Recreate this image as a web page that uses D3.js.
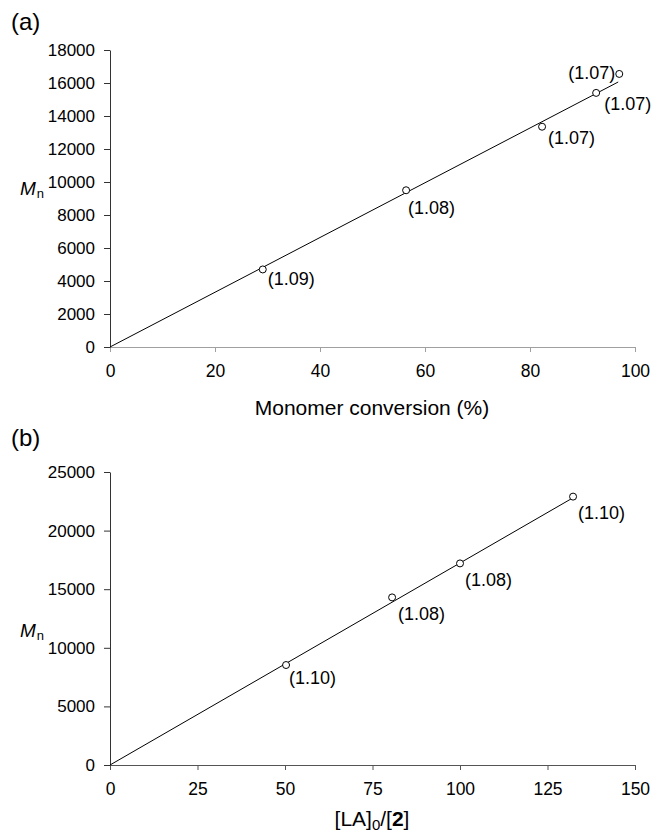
<!DOCTYPE html>
<html>
<head>
<meta charset="utf-8">
<script src="https://cdn.jsdelivr.net/npm/d3@7"></script>
<style>
  body { margin: 0; background: #fff; }
  svg { display: block; font-family: "Liberation Sans", Arial, sans-serif; }
</style>
</head>
<body>
<div id="chart"></div>
<script>
// Panel (a): Mn vs monomer conversion, PDI in brackets
const convA = [29.1, 56.4, 82.3, 92.6, 97.0];
const mnA   = [4700, 9500, 13350, 15400, 16550];
const pdiA  = ["(1.09)", "(1.08)", "(1.07)", "(1.07)", "(1.07)"];
const fitA  = [[0, 0], [96.8, 16060]];
const xTicksA = [0, 20, 40, 60, 80, 100];
const yTicksA = [0, 2000, 4000, 6000, 8000, 10000, 12000, 14000, 16000, 18000];

// Panel (b): Mn vs [LA]0/[2]
const ratioB = [50.3, 80.6, 100, 132.3];
const mnB    = [8530, 14300, 17200, 22900];
const pdiB   = ["(1.10)", "(1.08)", "(1.08)", "(1.10)"];
const fitB   = [[0, 0], [132, 22750]];
const xTicksB = [0, 25, 50, 75, 100, 125, 150];
const yTicksB = [0, 5000, 10000, 15000, 20000, 25000];

// label placement relative to each point (dx, dy, anchor)
const offA = [[5, 9, "start"], [2, 17, "start"], [6, 11, "start"], [8, 11, "start"], [-4, -1, "end"]];
const offB = [[3, 13, "start"], [6, 16, "start"], [5, 16, "start"], [5, 16, "start"]];

const W = 652, H = 836;
const svg = d3.select("#chart").append("svg").attr("width", W).attr("height", H);

function panel(o) {
  const x = d3.scaleLinear().domain(o.xDomain).range([110, 635]);
  const y = d3.scaleLinear().domain(o.yDomain).range([o.y0, o.y1]);
  const g = svg.append("g");

  // x axis
  g.append("g")
    .attr("transform", `translate(0,${o.y0})`)
    .call(d3.axisBottom(x).tickValues(o.xTicks).tickFormat(d3.format("d"))
      .tickSize(5).tickPadding(13).tickSizeOuter(0))
    .call(ax => ax.selectAll(".domain, .tick line").attr("stroke", o.xAxisColor))
    .call(ax => ax.selectAll("text").style("font-size", "17.5px").attr("fill", "#000"));

  // y axis
  g.append("g")
    .attr("transform", "translate(110,0)")
    .call(d3.axisLeft(y).tickValues(o.yTicks).tickFormat(d3.format("d"))
      .tickSize(6).tickPadding(9).tickSizeOuter(0))
    .call(ax => ax.selectAll(".domain, .tick line").attr("stroke", "#333"))
    .call(ax => ax.selectAll("text").style("font-size", "17px").attr("fill", "#000"));

  // fit line
  g.append("path")
    .datum(o.fit)
    .attr("d", d3.line().x(d => x(d[0])).y(d => y(d[1])))
    .attr("fill", "none").attr("stroke", "#000").attr("stroke-width", 1);

  // points
  g.selectAll("circle.pt")
    .data(o.xs)
    .join("circle")
      .attr("class", "pt")
      .attr("cx", d => x(d))
      .attr("cy", (d, i) => y(o.ys[i]))
      .attr("r", 3.5)
      .attr("fill", "#fff")
      .attr("stroke", "#000")
      .attr("stroke-width", 1);

  // PDI labels
  g.selectAll("text.pdi")
    .data(o.labels)
    .join("text")
      .attr("class", "pdi")
      .attr("x", (d, i) => x(o.xs[i]) + o.off[i][0])
      .attr("y", (d, i) => y(o.ys[i]) + o.off[i][1])
      .attr("dy", "0.35em")
      .attr("text-anchor", (d, i) => o.off[i][2])
      .style("font-size", "18px")
      .text(d => d);

  // panel letter
  g.append("text")
    .attr("x", 11).attr("y", o.letterY).attr("dy", "0.35em")
    .style("font-size", "24px").text(o.letter);

  // Mn label
  const mn = g.append("text").attr("x", 20).attr("y", o.mnY).style("font-size", "19px");
  mn.append("tspan").style("font-style", "italic").text("M");
  mn.append("tspan").attr("dx", 1).attr("dy", 3).style("font-size", "13px").text("n");

  // x title
  const t = g.append("text")
    .attr("x", 372).attr("y", o.titleY)
    .attr("text-anchor", "middle")
    .style("font-size", "21px");
  o.title(t);
}

panel({
  xDomain: [0, 100], yDomain: [0, 18000], y0: 347, y1: 50,
  xTicks: xTicksA, yTicks: yTicksA, xAxisColor: "#a0a0a0",
  xs: convA, ys: mnA, labels: pdiA, off: offA, fit: fitA,
  letter: "(a)", letterY: 22, mnY: 195, titleY: 415,
  title: t => t.text("Monomer conversion (%)")
});

panel({
  xDomain: [0, 150], yDomain: [0, 25000], y0: 765, y1: 472,
  xTicks: xTicksB, yTicks: yTicksB, xAxisColor: "#555",
  xs: ratioB, ys: mnB, labels: pdiB, off: offB, fit: fitB,
  letter: "(b)", letterY: 438, mnY: 637, titleY: 826,
  title: t => {
    t.append("tspan").text("[LA]");
    t.append("tspan").attr("dy", 4).style("font-size", "15px").text("0");
    t.append("tspan").attr("dy", -4).text("/[");
    t.append("tspan").style("font-weight", "bold").text("2");
    t.append("tspan").text("]");
  }
});
</script>
</body>
</html>
